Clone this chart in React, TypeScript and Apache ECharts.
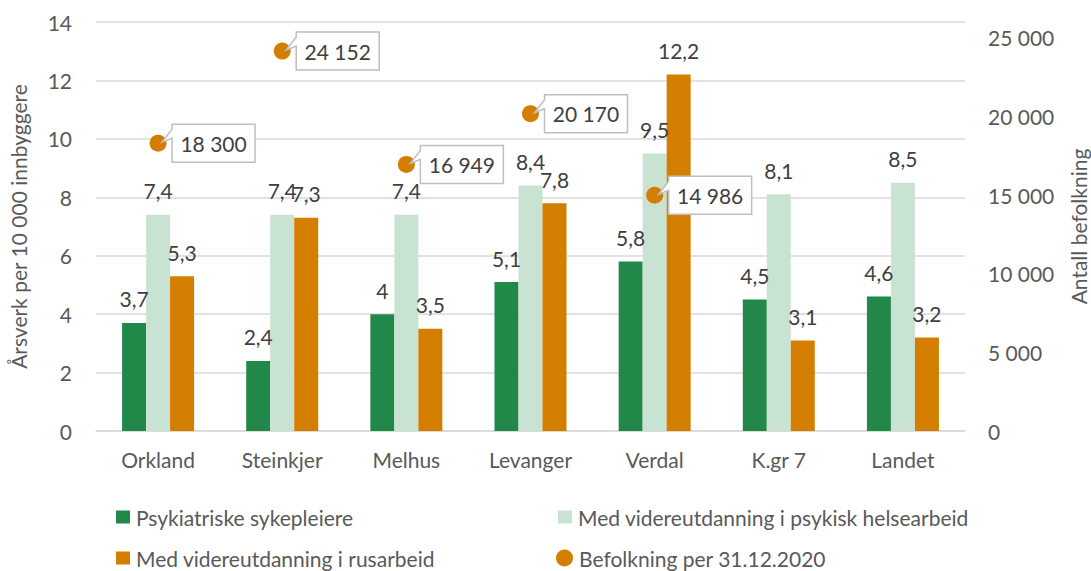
import React, { useEffect, useRef } from "react";
import * as echarts from "echarts";

const categories = ["Orkland", "Steinkjer", "Melhus", "Levanger", "Verdal", "K.gr 7", "Landet"];
const psykiatriske = [3.7, 2.4, 4, 5.1, 5.8, 4.5, 4.6];
const psykiskHelse = [7.4, 7.4, 7.4, 8.4, 9.5, 8.1, 8.5];
const rusarbeid = [5.3, 7.3, 3.5, 7.8, 12.2, 3.1, 3.2];
const befolkning: (number | null)[] = [18300, 24152, 16949, 20170, 14986, null, null];

const seriesNames = [
  "Psykiatriske sykepleiere",
  "Med videreutdanning i psykisk helsearbeid",
  "Med videreutdanning i rusarbeid",
  "Befolkning per 31.12.2020",
];

const FONT = "Lato";
const TEXT = "#595959";
const LABEL = "#404040";
const GRID = "#D9D9D9";
const GREEN = "#21884A";
const LIGHT = "#C9E3D2";
const ORANGE = "#D47E00";

const fmtDec = (v: number) => String(v).replace(".", ",");
const fmtThousands = (v: number) => String(Math.round(v)).replace(/\B(?=(\d{3})+(?!\d))/g, " ");

export default function App() {
  const ref = useRef<HTMLDivElement>(null);
  useEffect(() => {
    if (!ref.current) return;
    const chart = echarts.init(ref.current, undefined, { renderer: "svg" });
    const barLabel = {
      show: true,
      position: "top",
      distance: 12,
      fontSize: 21,
      lineHeight: 24,
      color: LABEL,
      fontFamily: FONT,
      formatter: (p: any) => fmtDec(p.value),
    };
    const legendBase = (name: string, left: number, top: number, icon: string) => ({
      data: [{ name, icon }],
      left,
      top,
      padding: 0,
      itemGap: 0,
      itemWidth: icon === "circle" ? 17 : 14,
      itemHeight: icon === "circle" ? 17 : 13,
      textStyle: { fontSize: 21, lineHeight: 22, color: TEXT, fontFamily: FONT, padding: [0, 0, 0, 1] },
      selectedMode: false,
    });
    const calloutData = befolkning
      .map((v, i) => (v == null ? null : [i, v]))
      .filter((d) => d !== null);
    chart.setOption({
      animation: false,
      textStyle: { fontFamily: FONT },
      grid: { left: 96, right: 126, top: 22, bottom: 140, outerBoundsMode: "none", containLabel: false },
      legend: [
        legendBase(seriesNames[0], 116, 506, "rect"),
        legendBase(seriesNames[1], 558, 506, "rect"),
        legendBase(seriesNames[2], 116, 547, "rect"),
        legendBase(seriesNames[3], 556, 547, "circle"),
      ],
      xAxis: {
        type: "category",
        data: categories,
        axisLine: { show: true, lineStyle: { color: GRID, width: 1.5 } },
        axisTick: { show: false },
        axisLabel: { fontSize: 21, color: TEXT, fontFamily: FONT, margin: 18 },
      },
      yAxis: [
        {
          type: "value",
          min: 0,
          max: 14,
          interval: 2,
          name: "Årsverk per 10 000 innbyggere",
          nameLocation: "middle",
          nameRotate: 90,
          nameGap: 67,
          nameTextStyle: { fontSize: 21, color: TEXT, fontFamily: FONT },
          axisLine: { show: false },
          axisTick: { show: false },
          axisLabel: { fontSize: 21, color: TEXT, fontFamily: FONT, margin: 24 },
          splitLine: { show: true, lineStyle: { color: GRID, width: 1.5 } },
        },
        {
          type: "value",
          min: 0,
          max: 26000,
          interval: 5000,
          name: "Antall befolkning",
          nameLocation: "middle",
          nameRotate: 90,
          nameGap: 103,
          nameTextStyle: { fontSize: 21, color: TEXT, fontFamily: FONT },
          axisLine: { show: false },
          axisTick: { show: false },
          axisLabel: {
            fontSize: 21,
            color: TEXT,
            fontFamily: FONT,
            margin: 23,
            formatter: (v: number) => (v % 5000 === 0 ? fmtThousands(v) : ""),
          },
          splitLine: { show: false },
        },
      ],
      series: [
        {
          name: seriesNames[0],
          type: "bar",
          data: psykiatriske,
          barWidth: 24,
          barGap: "0%",
          itemStyle: { color: GREEN },
          label: barLabel,
        },
        {
          name: seriesNames[1],
          type: "bar",
          data: psykiskHelse,
          barWidth: 24,
          barGap: "0%",
          itemStyle: { color: LIGHT },
          label: barLabel,
        },
        {
          name: seriesNames[2],
          type: "bar",
          data: rusarbeid,
          barWidth: 24,
          barGap: "0%",
          itemStyle: { color: ORANGE },
          label: barLabel,
        },
        {
          name: seriesNames[3],
          type: "scatter",
          yAxisIndex: 1,
          data: befolkning,
          symbol: "circle",
          symbolSize: 17,
          itemStyle: { color: ORANGE, opacity: 1 },
          z: 3,
        },
        {
          name: "callouts",
          type: "custom",
          yAxisIndex: 1,
          data: calloutData,
          z: 4,
          renderItem: (params: any, api: any) => {
            const pt = api.coord([api.value(0), api.value(1)]);
            const px = pt[0];
            const py = pt[1];
            const L = px + 14;
            const T = py - 19;
            const R = L + 83;
            const B = py + 19;
            return {
              type: "group",
              children: [
                {
                  type: "polygon",
                  shape: {
                    points: [
                      [L, T],
                      [R, T],
                      [R, B],
                      [L, B],
                      [L, T + 14],
                      [px + 4, py - 1],
                      [L, T + 5],
                    ],
                  },
                  style: { fill: "#ffffff", stroke: "#BFBFBF", lineWidth: 1.5 },
                },
                {
                  type: "text",
                  style: {
                    text: fmtThousands(api.value(1)),
                    x: (L + R) / 2,
                    y: py,
                    align: "center",
                    verticalAlign: "middle",
                    fontSize: 21,
                    fill: LABEL,
                    fontFamily: FONT,
                  },
                },
              ],
            };
          },
        },
      ],
    });
    return () => chart.dispose();
  }, []);
  return (
    <div
      ref={ref}
      style={{ position: "fixed", left: 0, top: 0, width: 1091, height: 571, background: "#ffffff" }}
    />
  );
}
